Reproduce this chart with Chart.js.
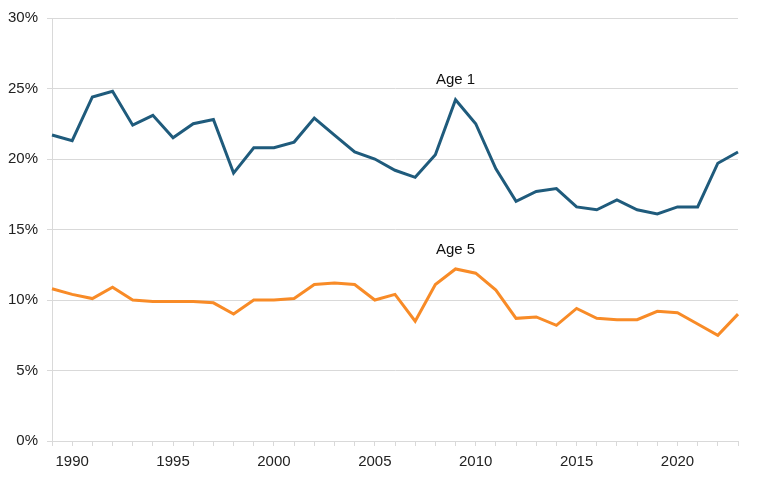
<!DOCTYPE html>
<html lang="en">
<head>
<meta charset="UTF-8" />
<title>Age 1 and Age 5</title>
<script src="https://cdn.jsdelivr.net/npm/chart.js"></script>
<style>
  html, body { margin: 0; padding: 0; background: #fff; }
  #wrap { width: 768px; height: 480px; position: relative; }
</style>
</head>
<body>
<div id="wrap">
  <canvas id="ageChart"></canvas>
</div>
<script>
  // years on the x axis
  const years = [];
  for (let y = 1989; y <= 2023; y++) years.push(y);

  // values in percent
  const age1 = [21.7, 21.3, 24.4, 24.8, 22.4, 23.1, 21.5, 22.5, 22.8, 19.0,
                20.8, 20.8, 21.2, 22.9, 21.7, 20.5, 20.0, 19.2, 18.7, 20.3,
                24.2, 22.5, 19.3, 17.0, 17.7, 17.9, 16.6, 16.4, 17.1, 16.4,
                16.1, 16.6, 16.6, 19.7, 20.5];
  const age5 = [10.8, 10.4, 10.1, 10.9, 10.0, 9.9, 9.9, 9.9, 9.8, 9.0,
                10.0, 10.0, 10.1, 11.1, 11.2, 11.1, 10.0, 10.4, 8.5, 11.1,
                12.2, 11.9, 10.7, 8.7, 8.8, 8.2, 9.4, 8.7, 8.6, 8.6,
                9.2, 9.1, 8.3, 7.5, 9.0];
  const yTicks = [0, 5, 10, 15, 20, 25, 30];
  const seriesNames = ['Age 1', 'Age 5'];
  const labelYear = 2009;

  const FONT = '"Liberation Sans", Arial, sans-serif';
  const GRID = '#d9d9d9';

  // writes "Age 1" / "Age 5" just above the 2009 point of each line
  const seriesLabels = {
    id: 'seriesLabels',
    afterDatasetsDraw(chart) {
      const ctx = chart.ctx;
      const idx = years.indexOf(labelYear);
      ctx.save();
      ctx.font = '15px ' + FONT;
      ctx.fillStyle = '#111';
      ctx.textAlign = 'center';
      ctx.textBaseline = 'bottom';
      chart.data.datasets.forEach((ds, i) => {
        const pt = chart.getDatasetMeta(i).data[idx];
        ctx.fillText(ds.label, pt.x, pt.y - 12);
      });
      ctx.restore();
    }
  };

  const ctx = document.getElementById('ageChart').getContext('2d');
  new Chart(ctx, {
    type: 'line',
    data: {
      labels: years,
      datasets: [{
        label: seriesNames[0],
        data: age1,
        borderColor: '#1f5b7c',
        borderWidth: 3,
        pointRadius: 0,
        tension: 0
      }, {
        label: seriesNames[1],
        data: age5,
        borderColor: '#f88b27',
        borderWidth: 3,
        pointRadius: 0,
        tension: 0
      }]
    },
    options: {
      responsive: true,
      maintainAspectRatio: false,
      animation: false,
      layout: { padding: { top: 16, right: 30, left: 0, bottom: 0 } },
      plugins: {
        legend: { display: false },
        tooltip: { enabled: false }
      },
      scales: {
        x: {
          type: 'category',
          offset: false,
          grid: { display: true, drawOnChartArea: false, color: GRID, tickLength: 5 },
          border: { color: GRID },
          ticks: {
            autoSkip: false,
            maxRotation: 0,
            padding: 7,
            color: '#222',
            font: { family: FONT, size: 15 },
            callback: function (val) {
              const yr = years[val];
              return yr % 5 === 0 ? String(yr) : '';
            }
          },
          afterFit: function (s) { s.height = 39; }
        },
        y: {
          min: 0,
          max: 30,
          afterBuildTicks: function (s) { s.ticks = yTicks.map(v => ({ value: v })); },
          grid: { color: GRID, tickLength: 5 },
          border: { color: GRID },
          ticks: {
            padding: 9,
            color: '#222',
            font: { family: FONT, size: 15 },
            callback: v => v + '%'
          },
          afterFit: function (s) { s.width = 52; }
        }
      }
    },
    plugins: [seriesLabels]
  });
</script>
</body>
</html>
